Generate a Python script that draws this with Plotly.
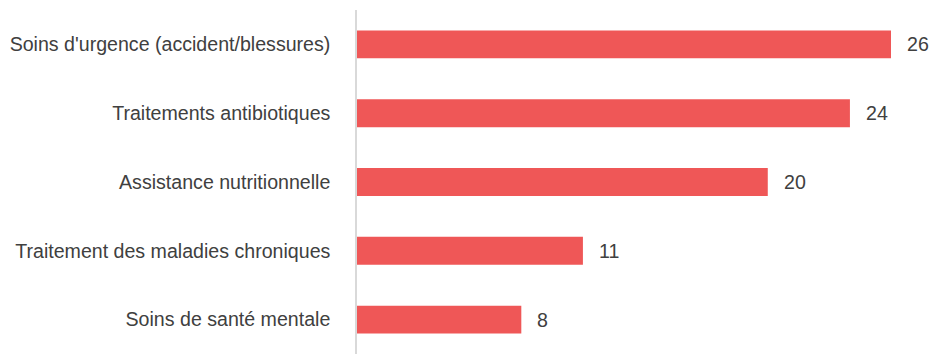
import plotly.graph_objects as go

categories = [
    "Soins d'urgence (accident/blessures)",
    "Traitements antibiotiques",
    "Assistance nutritionnelle",
    "Traitement des maladies chroniques",
    "Soins de santé mentale",
]
values = [26, 24, 20, 11, 8]

W, H = 930, 354
ML, MR, MT, MB = 357, 0, 10, 0
px_per_unit = (891 - 357) / 26
xmax = (W - ML - MR) / px_per_unit

FONT = "Liberation Sans, Arial, sans-serif"
TXT = "#404040"
FS = 19.6

fig = go.Figure(
    go.Bar(
        x=values,
        y=categories,
        orientation="h",
        marker=dict(color="#EF5757", line=dict(width=0)),
        hoverinfo="x+y",
    )
)

for c, v in zip(categories, values):
    fig.add_annotation(
        x=v, y=c, text=str(v), showarrow=False, xanchor="left",
        xshift=14, font=dict(family=FONT, size=FS, color=TXT),
    )

fig.update_layout(
    width=W, height=H,
    margin=dict(l=ML, r=MR, t=MT, b=MB, pad=0),
    paper_bgcolor="white", plot_bgcolor="white",
    bargap=0.594,
    showlegend=False,
    font=dict(family=FONT, size=FS, color=TXT),
)
fig.update_xaxes(range=[0, xmax], visible=False, fixedrange=True)
fig.update_yaxes(
    autorange="reversed", categoryorder="array", categoryarray=categories,
    showline=True, linecolor="#D9D9D9", linewidth=1.5,
    showgrid=False, ticks="", ticklabelstandoff=21, fixedrange=True,
    tickfont=dict(family=FONT, size=FS, color=TXT),
)

fig.write_html(
    "out.html",
    config={"displayModeBar": False},
    post_script="document.body.style.margin='0';document.body.style.padding='0';document.body.style.overflow='hidden';",
)
